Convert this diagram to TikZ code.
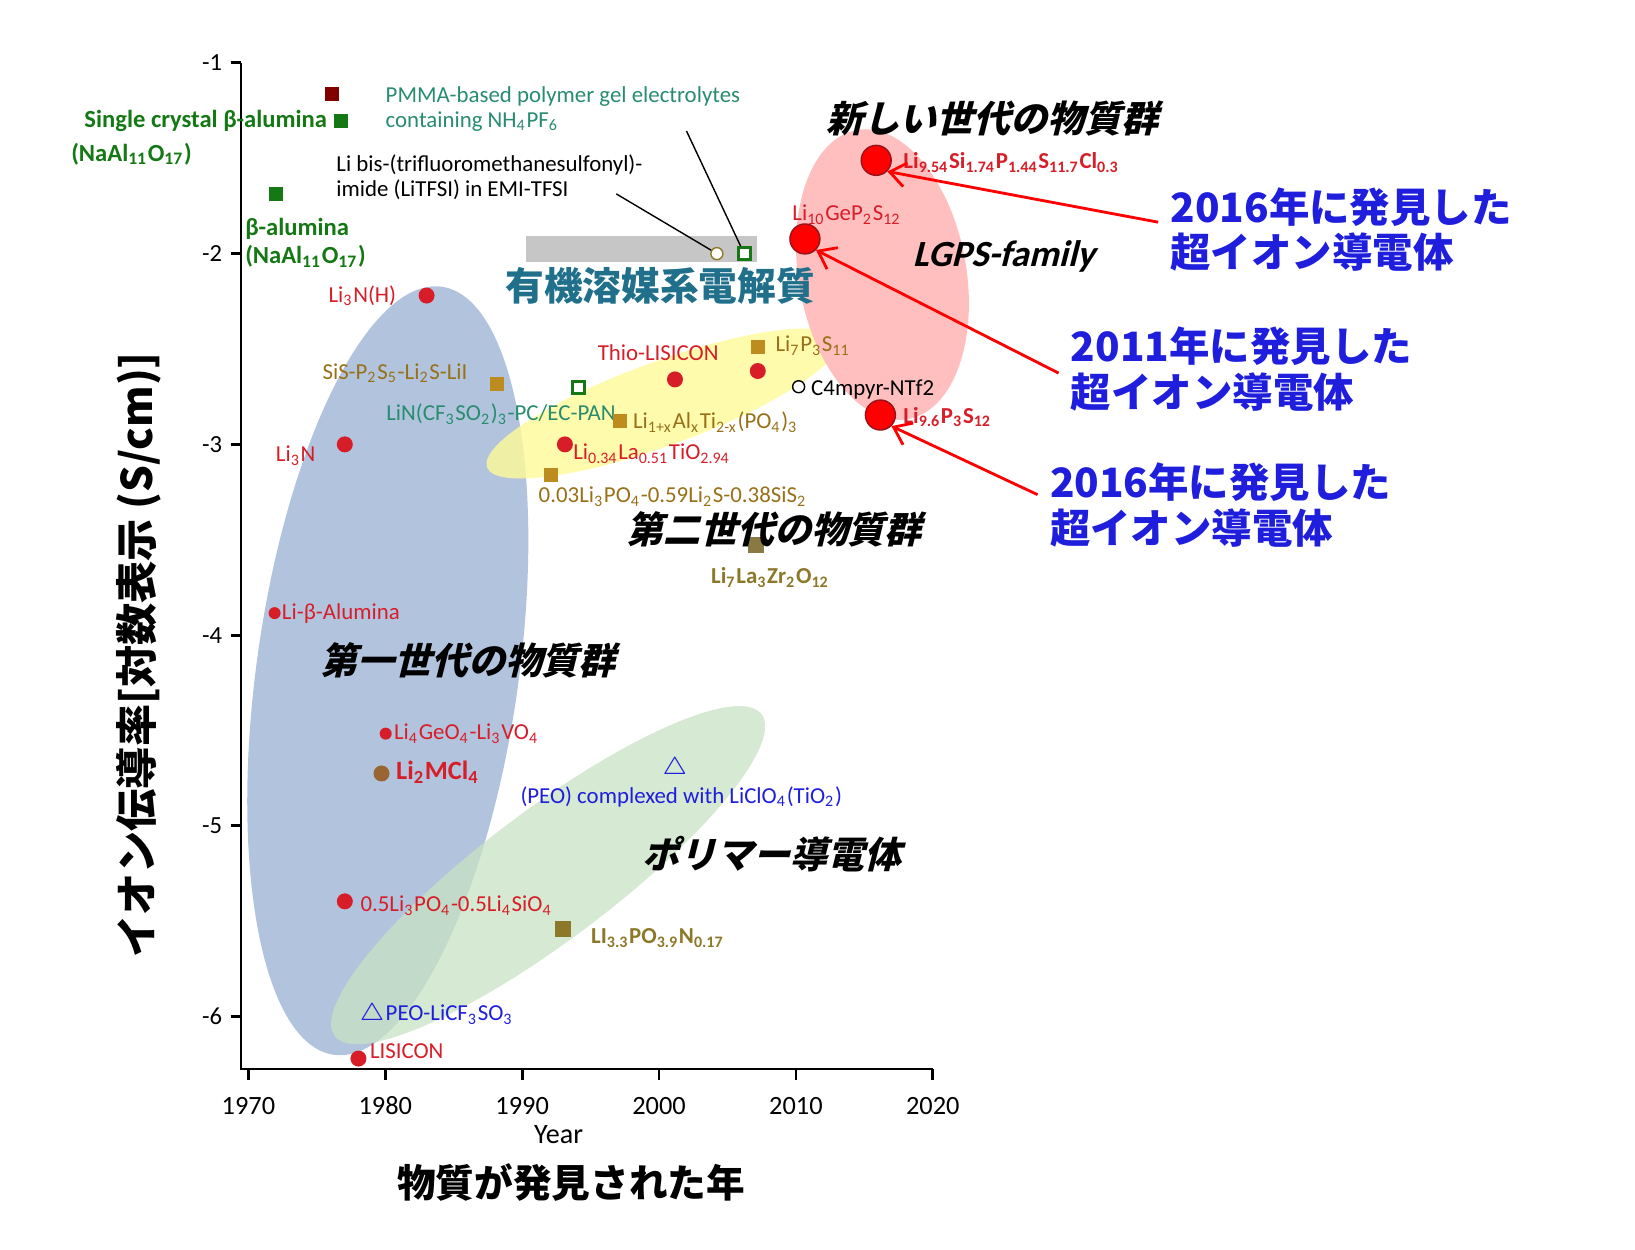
\documentclass[tikz,border=0pt]{standalone}
\usepackage{fontspec}
\setmainfont{Carlito}
\newfontfamily\jp{Noto Sans CJK JP}
\usepackage{tikz}
\usetikzlibrary{positioning,arrows.meta}

\definecolor{dred}{RGB}{215,30,40}
\definecolor{olive}{RGB}{190,140,30}
\definecolor{gold}{RGB}{140,120,40}
\definecolor{dgreen}{RGB}{20,120,20}
\definecolor{teal}{RGB}{40,140,110}
\definecolor{bblue}{RGB}{30,30,220}
\definecolor{gblue}{RGB}{165,185,215}
\definecolor{ggreen}{RGB}{200,225,195}

\tikzset{
  lbl/.style={font=\fontsize{6.5}{7}\selectfont, inner sep=1pt},
  dot/.style={circle, fill=dred, inner sep=0, minimum size=1.6mm},
  bigdot/.style={circle, fill=red, draw=dred!70!black, inner sep=0, minimum size=3mm},
  sq/.style={rectangle, fill=olive, inner sep=0, minimum size=1.4mm},
  osq/.style={rectangle, draw=dgreen, thick, fill=white, inner sep=0, minimum size=1.2mm},
  tri/.style={text=bblue, inner sep=0, font=\fontsize{7}{7}\selectfont},
  group/.style={font=\jp\bfseries\fontsize{10.5}{11}\selectfont, xslant=0.25},
  found/.style={font=\jp\bfseries\fontsize{11.5}{13}\selectfont, text=bblue, align=left, anchor=west},
}

\begin{document}
\begin{tikzpicture}[x=0.1048mm, y=-0.1048mm]
\useasboundingbox (0,0) rectangle (1560,1192);

% shaded groups
\fill[gblue, opacity=0.85, rotate around={-8:(370,640)}] (370,640) ellipse (125 and 370);
\fill[ggreen, opacity=0.75, rotate around={37:(523,835)}] (523,835) ellipse (255 and 62);
\fill[yellow!40, opacity=0.8, rotate around={20:(632,385)}] (632,385) ellipse (178 and 40);
\fill[red!25, rotate around={10:(842,262)}] (842,262) ellipse (80 and 140);
\fill[gray!45] (502,225) rectangle (722,250);

% axes
\draw[thick] (230,60) -- (230,1020) -- (890,1020);
\foreach \v [count=\i] in {-1,-2,-3,-4,-5,-6} {
  \draw[thick] (220,60+182*\i-182) -- (230,60+182*\i-182);
  \node[lbl, anchor=east, font=\fontsize{7}{7}\selectfont] at (216,60+182*\i-182) {\v};
}
\foreach \yr [count=\i] in {1970,1980,...,2020} {
  \draw[thick] (237+130.6*\i-130.6,1020) -- (237+130.6*\i-130.6,1030);
  \node[lbl, font=\fontsize{7.5}{8}\selectfont] at (237+130.6*\i-130.6,1055) {\yr};
}
\node[font=\fontsize{8}{8}\selectfont] (year) at (533,1083) {Year};
\node[font=\jp\bfseries\fontsize{11}{12}\selectfont] (xlab) at (545,1128) {物質が発見された年};
\node[font=\jp\bfseries\fontsize{12}{12}\selectfont, rotate=90] (ylab) at (132,625) {イオン伝導率[対数表示 (S/cm)]};

% top left
\node[sq, fill=red!50!black] (m1) at (317,90) {};
\node[sq, fill=dgreen] (m2) at (325,115) {};
\node[lbl, anchor=east, text=dgreen, font=\bfseries\fontsize{7}{8}\selectfont] (l2) at (316,115) {Single crystal β-alumina};
\node[lbl, anchor=west, text=dgreen, font=\bfseries\fontsize{7}{8}\selectfont] (l2b) at (64,147) {(NaAl\textsubscript{11}O\textsubscript{17})};
\node[sq, fill=dgreen] (m3) at (263,185) {};
\node[lbl, anchor=west, text=dgreen, font=\bfseries\fontsize{7}{8}\selectfont, align=left] (l3) at (230,232) {β-alumina\\(NaAl\textsubscript{11}O\textsubscript{17})};

% organic electrolytes
\node[lbl, anchor=west, text=teal, align=left] (lp) at (364,104) {PMMA-based polymer gel electrolytes\\containing NH\textsubscript{4}PF\textsubscript{6}};
\node[lbl, anchor=west, align=left] (lt) at (317,169) {Li bis-(trifluoromethanesulfonyl)-\\imide (LiTFSI) in EMI-TFSI};
\node[circle, draw=gold, fill=white, inner sep=0, minimum size=1.2mm] (mt) at (684,242) {};
\node[osq] (mp) at (710,242) {};
\draw (588,185) -- (mt);
\draw (655,125) -- (mp);
\node[font=\jp\bfseries\fontsize{11}{12}\selectfont, text=teal!80!blue] (org) at (630,273) {有機溶媒系電解質};

% first generation
\node[dot] (d1) at (407,282) {};
\node[lbl, anchor=east, text=dred] (l4) at (382,282) {Li\textsubscript{3}N(H)};
\node[dot] (d2) at (329,424) {};
\node[lbl, anchor=east, text=dred] (l5) at (305,435) {Li\textsubscript{3}N};
\node[dot, minimum size=1.2mm] (d3) at (262,585) {};
\node[lbl, anchor=west, text=dred] (l6) at (265,585) {Li-β-Alumina};
\node[dot, minimum size=1.2mm] (d4) at (368,700) {};
\node[lbl, anchor=west, text=dred] (l7) at (372,700) {Li\textsubscript{4}GeO\textsubscript{4}-Li\textsubscript{3}VO\textsubscript{4}};
\node[dot, fill=brown!80!black] (d5) at (364,738) {};
\node[lbl, anchor=west, text=dred, font=\bfseries\fontsize{7.5}{8}\selectfont] (l8) at (374,737) {Li\textsubscript{2}MCl\textsubscript{4}};
\node[dot] (d6) at (329,860) {};
\node[lbl, anchor=west, text=dred] (l9) at (340,864) {0.5Li\textsubscript{3}PO\textsubscript{4}-0.5Li\textsubscript{4}SiO\textsubscript{4}};
\node[dot] (d7) at (342,1010) {};
\node[lbl, anchor=west, text=dred] (l10) at (349,1003) {LISICON};
\node[group] (g1) at (450,630) {第一世代の物質群};

% polymers
\node[tri] (t1) at (644,733) {$\triangle$};
\node[lbl, text=bblue] (l11) at (650,760) {(PEO) complexed with LiClO\textsubscript{4}(TiO\textsubscript{2})};
\node[tri] (t2) at (355,968) {$\triangle$};
\node[lbl, anchor=west, text=bblue] (l12) at (364,968) {PEO-LiCF\textsubscript{3}SO\textsubscript{3}};
\node[sq, fill=gold, minimum size=1.6mm] (s1) at (537,886) {};
\node[lbl, anchor=west, text=gold, font=\bfseries\fontsize{6.5}{7}\selectfont] (l13) at (560,895) {LI\textsubscript{3.3}PO\textsubscript{3.9}N\textsubscript{0.17}};
\node[group] (g2) at (740,815) {ポリマー導電体};

% second generation
\node[sq] (s2) at (474,366) {};
\node[lbl, anchor=east, text=olive!80!black] (l14) at (450,356) {SiS-P\textsubscript{2}S\textsubscript{5}-Li\textsubscript{2}S-LiI};
\node[osq] (s3) at (552,370) {};
\node[lbl, text=teal] (l15) at (478,395) {LiN(CF\textsubscript{3}SO\textsubscript{2})\textsubscript{3}-PC/EC-PAN};
\node[dot] (d8) at (644,362) {};
\node[lbl, text=dred] (l16) at (628,336) {Thio-LISICON};
\node[dot] (d9) at (723,354) {};
\node[sq] (s4) at (723,331) {};
\node[lbl, anchor=west, text=olive!80!black] (l17) at (736,330) {Li\textsubscript{7}P\textsubscript{3}S\textsubscript{11}};
\node[circle, draw, fill=white, inner sep=0, minimum size=1.2mm] (c1) at (762,369) {};
\node[lbl, anchor=west] (l18) at (770,372) {C4mpyr-NTf2};
\node[sq] (s5) at (592,402) {};
\node[lbl, anchor=west, text=olive!80!black] (l19) at (600,403) {Li\textsubscript{1+x}Al\textsubscript{x}Ti\textsubscript{2-x}(PO\textsubscript{4})\textsubscript{3}};
\node[dot] (d10) at (539,424) {};
\node[lbl, anchor=west, text=dred] (l20) at (543,433) {Li\textsubscript{0.34}La\textsubscript{0.51}TiO\textsubscript{2.94}};
\node[sq] (s6) at (526,453) {};
\node[lbl, anchor=west, text=olive!80!black] (l21) at (510,474) {0.03Li\textsubscript{3}PO\textsubscript{4}-0.59Li\textsubscript{2}S-0.38SiS\textsubscript{2}};
\node[sq, fill=gold!70!gray, minimum size=1.6mm] (s7) at (721,520) {};
\node[lbl, text=gold, font=\bfseries\fontsize{6.5}{7}\selectfont] (l22) at (735,551) {Li\textsubscript{7}La\textsubscript{3}Zr\textsubscript{2}O\textsubscript{12}};
\node[group] (g3) at (742,505) {第二世代の物質群};

% new generation
\node[bigdot] (b1) at (836,153) {};
\node[lbl, anchor=west, text=dred, font=\bfseries\fontsize{6.5}{7}\selectfont] (l23) at (858,155) {Li\textsubscript{9.54}Si\textsubscript{1.74}P\textsubscript{1.44}S\textsubscript{11.7}Cl\textsubscript{0.3}};
\node[bigdot] (b2) at (768,228) {};
\node[lbl, text=dred] (l24) at (808,205) {Li\textsubscript{10}GeP\textsubscript{2}S\textsubscript{12}};
\node[bigdot] (b3) at (840,396) {};
\node[lbl, anchor=west, text=dred, font=\bfseries\fontsize{6.5}{7}\selectfont] (l25) at (858,398) {Li\textsubscript{9.6}P\textsubscript{3}S\textsubscript{12}};
\node[group] (g4) at (950,113) {新しい世代の物質群};
\node[group, font=\bfseries\fontsize{10.5}{11}\selectfont] (g5) at (960,245) {LGPS-family};

\node[found] (f1) at (1105,219) {2016年に発見した\\超イオン導電体};
\node[found] (f2) at (1010,352) {2011年に発見した\\超イオン導電体};
\node[found] (f3) at (990,482) {2016年に発見した\\超イオン導電体};
\draw[red, thick, -{Straight Barb[length=1.6mm, width=2.4mm]}] (f1.west |- 0,212) -- (b1.south east);
\draw[red, thick, -{Straight Barb[length=1.6mm, width=2.4mm]}] (f2.west |- 0,356) -- (b2.south east);
\draw[red, thick, -{Straight Barb[length=1.6mm, width=2.4mm]}] (f3.west |- 0,472) -- (b3.south east);
\end{tikzpicture}
\end{document}
